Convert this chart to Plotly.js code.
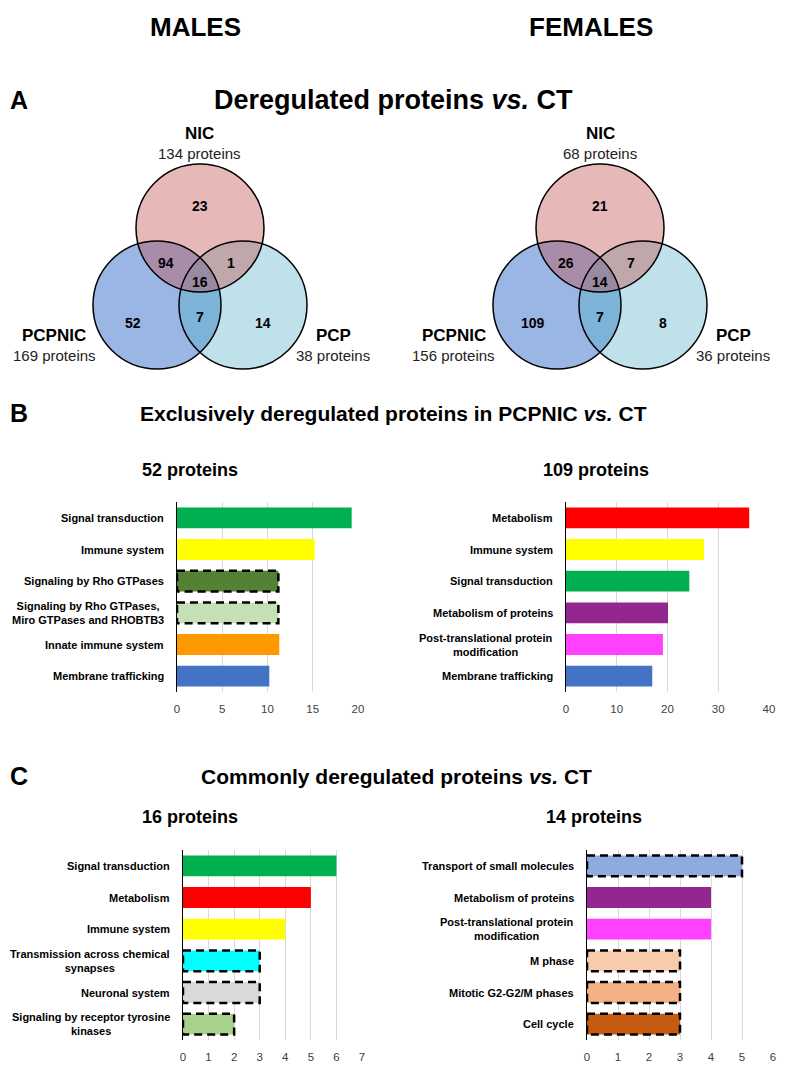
<!DOCTYPE html>
<html>
<head>
<meta charset="utf-8">
<script src="https://cdn.plot.ly/plotly-3.0.1.min.js"></script>
<style>html,body{margin:0;padding:0;background:#fff;}#chart{width:791px;height:1069px;}</style>
</head>
<body>
<div id="chart"></div>
<script>
// ---------------- DATA ----------------
const vennSetNames = ['NIC', 'PCPNIC', 'PCP'];
const maleSetTotals = [134, 169, 38];
const femaleSetTotals = [68, 156, 36];
// region order: NIC only, NIC&PCPNIC, NIC&PCP, all three, PCPNIC only, PCPNIC&PCP, PCP only
const maleRegionCounts = [23, 94, 1, 16, 52, 7, 14];
const femaleRegionCounts = [21, 26, 7, 14, 109, 7, 8];

const maleBCategories = ['Signal transduction', 'Immune system', 'Signaling by Rho GTPases',
  'Signaling by Rho GTPases,<br>Miro GTPases and RHOBTB3', 'Innate immune system', 'Membrane trafficking'];
const maleBValues = [19.3, 15.2, 11.2, 11.2, 11.3, 10.2];
const maleBColors = ['#00b050', '#ffff00', '#548235', '#c5e0b4', '#ff9900', '#4472c4'];
const maleBDashed = [false, false, true, true, false, false];
const maleBTicks = [0, 5, 10, 15, 20];

const femaleBCategories = ['Metabolism', 'Immune system', 'Signal transduction', 'Metabolism of proteins',
  'Post-translational protein<br>modification', 'Membrane trafficking'];
const femaleBValues = [36.1, 27.2, 24.3, 20.1, 19.1, 17.0];
const femaleBColors = ['#ff0000', '#ffff00', '#00b050', '#93278f', '#ff40ff', '#4472c4'];
const femaleBDashed = [false, false, false, false, false, false];
const femaleBTicks = [0, 10, 20, 30, 40];

const maleCCategories = ['Signal transduction', 'Metabolism', 'Immune system',
  'Transmission across chemical<br>synapses', 'Neuronal system', 'Signaling by receptor tyrosine<br>kinases'];
const maleCValues = [6, 5, 4, 3, 3, 2];
const maleCColors = ['#00b050', '#ff0000', '#ffff00', '#00ffff', '#d9d9d9', '#a9d18e'];
const maleCDashed = [false, false, false, true, true, true];
const maleCTicks = [0, 1, 2, 3, 4, 5, 6, 7];

const femaleCCategories = ['Transport of small molecules', 'Metabolism of proteins',
  'Post-translational protein<br>modification', 'M phase', 'Mitotic G2-G2/M phases', 'Cell cycle'];
const femaleCValues = [5, 4, 4, 3, 3, 3];
const femaleCColors = ['#8faadc', '#93278f', '#ff40ff', '#f8cbad', '#f4b183', '#c55a11'];
const femaleCDashed = [true, false, false, true, true, true];
const femaleCTicks = [0, 1, 2, 3, 4, 5, 6];

// ---------------- LAYOUT HELPERS ----------------
const W = 791, H = 1069;
const px = x => x / W;
const py = y => 1 - y / H;
const ARIAL = '"Liberation Sans", Arial, Helvetica, sans-serif';

const annotations = [];
const shapes = [];
const traces = [];
const layout = {
  width: W, height: H,
  margin: {l: 0, r: 0, t: 0, b: 0},
  paper_bgcolor: '#ffffff', plot_bgcolor: '#ffffff',
  showlegend: false,
  annotations: annotations, shapes: shapes
};

function txt(text, x, y, size, color) {
  annotations.push({
    text: text, x: px(x), y: py(y), xref: 'paper', yref: 'paper',
    showarrow: false, xanchor: 'center', yanchor: 'middle',
    font: {family: ARIAL, size: size, color: color || '#000000'}
  });
}

// headers
txt('<b>MALES</b>', 195, 27, 26);
txt('<b>FEMALES</b>', 591, 27, 26);
txt('<b>A</b>', 19, 100, 25);
txt('<b>Deregulated proteins <i>vs.</i> CT</b>', 393, 100, 27);
txt('<b>B</b>', 19, 413, 25);
txt('<b>Exclusively deregulated proteins in PCPNIC <i>vs.</i> CT</b>', 393, 413, 21);
txt('<b>C</b>', 19, 776, 25);
txt('<b>Commonly deregulated proteins <i>vs.</i> CT</b>', 396, 776, 21);
txt('<b>52 proteins</b>', 190, 470, 18);
txt('<b>109 proteins</b>', 596, 470, 18);
txt('<b>16 proteins</b>', 190, 817, 18);
txt('<b>14 proteins</b>', 594, 817, 18);

// ---------------- VENN ----------------
const R = 64;
const vennFill = ['rgba(192,80,77,0.40)', 'rgba(60,115,205,0.52)', 'rgba(75,172,198,0.36)'];
const regionOffsets = [[0, -22], [-34, 35], [31, 35], [0, 54], [-67, 95], [0, 89], [63, 95]];
function venn(cx, totals, counts) {
  const centers = [[cx, 228], [cx - 43, 305], [cx + 43, 305]];
  const drawOrder = [1, 2, 0];
  drawOrder.forEach(i => {
    const c = centers[i];
    shapes.push({type: 'circle', xref: 'paper', yref: 'paper',
      x0: px(c[0] - R), x1: px(c[0] + R), y0: py(c[1] + R), y1: py(c[1] - R),
      fillcolor: vennFill[i], line: {width: 0}, layer: 'below'});
  });
  centers.forEach(c => {
    shapes.push({type: 'circle', xref: 'paper', yref: 'paper',
      x0: px(c[0] - R), x1: px(c[0] + R), y0: py(c[1] + R), y1: py(c[1] - R),
      fillcolor: 'rgba(0,0,0,0)', line: {width: 1.5, color: '#000000'}, layer: 'below'});
  });
  counts.forEach((v, k) => {
    txt('<b>' + v + '</b>', cx + regionOffsets[k][0], 228 + regionOffsets[k][1], 14);
  });
  const labelPos = [[0, 134, 153], [-146, 335, 355], [133, 335, 355]];
  vennSetNames.forEach((n, i) => {
    txt('<b>' + n + '</b>', cx + labelPos[i][0], labelPos[i][1], 17);
    txt(totals[i] + ' proteins', cx + labelPos[i][0], labelPos[i][2], 15, '#222222');
  });
}
venn(200, maleSetTotals, maleRegionCounts);
venn(600, femaleSetTotals, femaleRegionCounts);

// ---------------- BAR PANELS ----------------
const BARGAP = 0.34;
function barPanel(idx, cats, vals, cols, dashed, ticks, axisLeft, axisRight, top, bottom) {
  const sfx = idx === 1 ? '' : String(idx);
  const xa = 'xaxis' + sfx, ya = 'yaxis' + sfx, xr = 'x' + sfx, yr = 'y' + sfx;
  traces.push({type: 'bar', orientation: 'h', x: vals, y: cats, xaxis: xr, yaxis: yr,
    marker: {color: cols, line: {width: 0}}, hoverinfo: 'none'});
  layout[xa] = {domain: [px(axisLeft), px(axisRight)], anchor: yr, range: [0, ticks[ticks.length - 1]],
    tickmode: 'array', tickvals: ticks, ticktext: ticks.map(String),
    showgrid: true, gridcolor: '#d9d9d9', gridwidth: 1, zeroline: false, showline: false,
    ticks: '', ticklabelstandoff: 8, tickfont: {family: ARIAL, size: 11.5, color: '#404040'}, fixedrange: true};
  layout[ya] = {domain: [py(bottom), py(top)], anchor: xr, type: 'category',
    range: [cats.length - 0.5, -0.5], showticklabels: false, ticks: '',
    showline: true, linecolor: '#000000', linewidth: 1.5, showgrid: false, zeroline: false, fixedrange: true};
  layout.bargap = BARGAP;
  cats.forEach((c, i) => {
    annotations.push({text: '<b>' + c + '</b>', xref: 'paper', yref: yr, x: px(axisLeft - 11), y: c,
      xanchor: 'right', yanchor: 'middle', align: 'center', showarrow: false,
      font: {family: ARIAL, size: 11, color: '#000000'}});
    if (dashed[i]) {
      const h = (1 - BARGAP) / 2;
      shapes.push({type: 'rect', xref: xr, yref: yr, x0: 0, x1: vals[i], y0: i - h, y1: i + h,
        fillcolor: 'rgba(0,0,0,0)', line: {color: '#000000', width: 2.5, dash: '8px,5px'}, layer: 'above'});
    }
  });
}
barPanel(1, maleBCategories, maleBValues, maleBColors, maleBDashed, maleBTicks, 177, 358, 502, 692);
barPanel(2, femaleBCategories, femaleBValues, femaleBColors, femaleBDashed, femaleBTicks, 566, 769, 502, 692);
barPanel(3, maleCCategories, maleCValues, maleCColors, maleCDashed, maleCTicks, 183, 362, 850, 1040);
barPanel(4, femaleCCategories, femaleCValues, femaleCColors, femaleCDashed, femaleCTicks, 587, 773, 850, 1040);

Plotly.newPlot('chart', traces, layout, {staticPlot: true, displayModeBar: false});
</script>
</body>
</html>
